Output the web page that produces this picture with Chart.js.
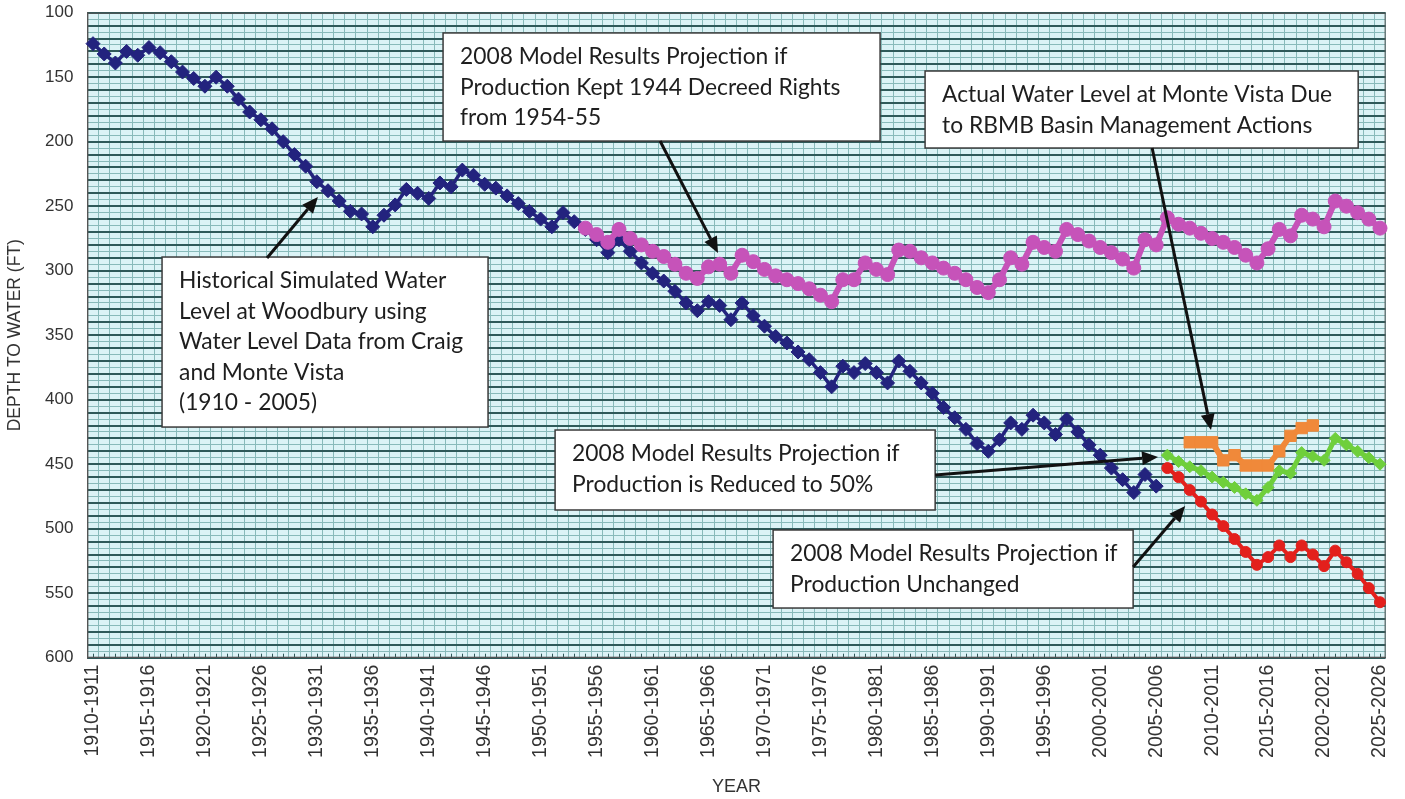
<!DOCTYPE html>
<html><head><meta charset="utf-8">
<script src="https://cdn.jsdelivr.net/npm/chart.js@4.4.0/dist/chart.umd.min.js"></script>
<style>html,body{margin:0;padding:0;background:#fff}#wrap{width:1405px;height:799px;position:relative}</style>
</head><body><div id="wrap"><canvas id="c" width="1405" height="799"></canvas></div>
<script>
// ---- categories (water years) ----
const firstYear = 1910, lastYear = 2025;
const categories = [];
for (let y = firstYear; y <= lastYear; y++) categories.push(y + '-' + (y + 1));

// ---- series values (depth to water, ft) ----
const historicalStart = 0; // 1910-1911
const historical = [124,132,139,130,133,127,131,138,146,151,157,150,157,167,177,183,190,200,210,219,
  231,238,246,254,256,266,257,249,237,240,244,232,235,222,226,233,236,242,248,254,
  260,266,255,262,268,276,286,276,285,294,302,308,316,325,331,324,327,338,325,335,
  343,351,356,363,369,379,390,374,379,372,379,387,370,378,387,395,406,414,423,434,
  440,431,418,423,412,418,427,415,425,435,443,453,462,472,458,467];
const kept1944Start = 44; // 1954-1955
const kept1944 = [267,272,278,268,275,280,285,289,295,302,306,297,295,302,288,293,299,304,307,310,
  314,319,324,307,307,294,299,303,284,285,290,294,298,302,307,313,317,307,290,295,
  278,282,285,268,272,277,282,286,291,298,276,280,259,264,267,271,275,278,282,288,
  294,283,268,273,257,260,266,246,250,255,260,267];
const reduced50Start = 96; // 2006-2007
const reduced50 = [443,448,452,455,460,464,468,473,478,468,455,457,441,444,447,430,435,440,445,450];
const unchangedStart = 96;
const unchanged = [453,460,470,479,489,498,508,518,528,522,513,522,513,520,529,517,526,535,546,557];
const actualStart = 98; // 2008-2009
const actual = [433,433,433,447,443,451,451,451,440,428,422,420];

// ---- axis ticks ----
const yMin = 100, yMax = 600, yLabelStep = 50, yGridStep = 5, yMajorGrid = 10;
const xLabelEvery = 5;

// ---- annotations (in category-index / depth units) ----
const noteBoxes = [
  {x0: 6.17, x1: 35.3, y0: 289.4, y1: 421.2,
   lines: ['Historical Simulated Water','Level at Woodbury using','Water Level Data from Craig','and Monte Vista','(1910 - 2005)']},
  {x0: 31.28, x1: 70.33, y0: 115.7, y1: 199.5,
   lines: ['2008 Model Results Projection if','Production Kept 1944 Decreed Rights','from 1954-55']},
  {x0: 74.35, x1: 113.05, y0: 145.2, y1: 204.9,
   lines: ['Actual Water Level at Monte Vista Due','to RBMB Basin Management Actions']},
  {x0: 41.29, x1: 75.25, y0: 423.5, y1: 485.5,
   lines: ['2008 Model Results Projection if','Production is Reduced to 50%']},
  {x0: 60.77, x1: 92.94, y0: 501, y1: 561.5,
   lines: ['2008 Model Results Projection if','Production Unchanged']}
];
const noteArrows = [
  {x0: 15.55, y0: 290.1, x1: 20.1, y1: 242.9},
  {x0: 50.67, y0: 199.5, x1: 55.85, y1: 286.3},
  {x0: 94.64, y0: 204.9, x1: 99.9, y1: 423.5},
  {x0: 75.25, y0: 458.3, x1: 95.17, y1: 444.4},
  {x0: 92.94, y0: 529.7, x1: 97.59, y1: 482.4}
];

function place(start, vals) {
  const out = new Array(categories.length).fill(null);
  vals.forEach((v, i) => { out[start + i] = v; });
  return out;
}

const plotBg = '#dbf3f6';
const gridLight = '#88baba';
const gridDark = '#2f5a5a';

const bgPlugin = {
  id: 'bg',
  beforeDraw(chart) {
    const {ctx, chartArea: a} = chart;
    ctx.save();
    ctx.fillStyle = plotBg;
    ctx.fillRect(a.left, a.top, a.right - a.left, a.bottom - a.top);
    ctx.restore();
  },
  beforeDatasetsDraw(chart) {
    const {ctx, chartArea: a, scales} = chart;
    ctx.save();
    ctx.strokeStyle = gridDark; ctx.lineWidth = 1;
    for (let i = 0; i < categories.length; i++) {
      const x = Math.round(scales.x.getPixelForValue(i)) + 0.5;
      ctx.beginPath(); ctx.moveTo(x, a.bottom); ctx.lineTo(x, a.bottom - 4); ctx.stroke();
    }
    ctx.strokeStyle = '#555'; ctx.lineWidth = 1;
    ctx.strokeRect(a.left + 0.5, a.top + 0.5, a.right - a.left - 1, a.bottom - a.top - 1);
    ctx.restore();
  }
};

const notePlugin = {
  id: 'notes',
  afterDatasetsDraw(chart) {
    const {ctx, scales} = chart;
    const X = v => scales.x.getPixelForValue(v);
    const Y = v => scales.y.getPixelForValue(v);
    ctx.save();
    noteBoxes.forEach(b => {
      const x0 = X(b.x0), x1 = X(b.x1), y0 = Y(b.y0), y1 = Y(b.y1);
      ctx.fillStyle = '#ffffff';
      ctx.fillRect(x0, y0, x1 - x0, y1 - y0);
      ctx.strokeStyle = '#3a3a3a'; ctx.lineWidth = 1.5;
      ctx.strokeRect(x0, y0, x1 - x0, y1 - y0);
      ctx.fillStyle = '#1e1e1e';
      ctx.font = '22.8px Lato, "Open Sans", sans-serif';
      ctx.textBaseline = 'middle'; ctx.textAlign = 'left';
      b.lines.forEach((t, k) => ctx.fillText(t, x0 + 17, y0 + 24 + k * 30.5));
    });
    noteArrows.forEach(r => {
      const xa = X(r.x0), ya = Y(r.y0), xb = X(r.x1), yb = Y(r.y1);
      const ang = Math.atan2(yb - ya, xb - xa);
      const hl = 16, hw = 7;
      const bx = xb - hl * Math.cos(ang), by = yb - hl * Math.sin(ang);
      ctx.strokeStyle = '#111'; ctx.lineWidth = 3;
      ctx.beginPath(); ctx.moveTo(xa, ya); ctx.lineTo(bx, by); ctx.stroke();
      ctx.fillStyle = '#111';
      ctx.beginPath();
      ctx.moveTo(xb, yb);
      ctx.lineTo(bx + hw * Math.sin(ang), by - hw * Math.cos(ang));
      ctx.lineTo(bx - hw * Math.sin(ang), by + hw * Math.cos(ang));
      ctx.closePath(); ctx.fill();
    });
    ctx.restore();
  }
};

const ds = (label, data, color, style, radius, width) => ({
  label, data, borderColor: color, backgroundColor: color,
  pointStyle: style, pointRadius: radius, pointHoverRadius: radius,
  pointBorderColor: color, pointBackgroundColor: color, pointBorderWidth: 1,
  borderWidth: width, tension: 0, spanGaps: false
});

const axisFont = '"Liberation Sans", Arial, sans-serif';

new Chart(document.getElementById('c'), {
  type: 'line',
  data: {
    labels: categories,
    datasets: [
      ds('2008 Model Results Projection if Production Kept 1944 Decreed Rights', place(kept1944Start, kept1944), '#c653b9', 'circle', 7, 6),
      ds('Historical Simulated Water Level at Woodbury', place(historicalStart, historical), '#23237e', 'rectRot', 7, 3.5),
      ds('2008 Model Results Projection if Production is Reduced to 50%', place(reduced50Start, reduced50), '#6fcf3c', 'rectRot', 6, 5),
      ds('2008 Model Results Projection if Production Unchanged', place(unchangedStart, unchanged), '#e3201c', 'circle', 5.5, 4),
      ds('Actual Water Level at Monte Vista', place(actualStart, actual), '#f0893a', 'rect', 8, 6)
    ]
  },
  options: {
    responsive: false, animation: false,
    devicePixelRatio: 1,
    layout: {padding: {left: 0, right: 19.4, top: 12.7, bottom: 0}},
    plugins: {legend: {display: false}, tooltip: {enabled: false}},
    scales: {
      x: {
        type: 'category', offset: true,
        grid: {offset: true, color: gridLight, lineWidth: 1, drawTicks: false},
        border: {display: true, color: '#555', width: 1},
        ticks: {
          autoSkip: false, minRotation: 90, maxRotation: 90, padding: 7,
          color: '#333', font: {family: axisFont, size: 19.5},
          callback: function (val, idx) { return idx % xLabelEvery === 0 ? this.getLabelForValue(val) : ''; }
        },
        title: {display: true, text: 'YEAR', color: '#333', padding: {top: 0, bottom: 1},
          font: {family: axisFont, size: 18}},
        afterFit(s) { s.height = 799 - 657.7; s.paddingLeft = 0; s.paddingRight = 0; }
      },
      y: {
        type: 'linear', reverse: true, min: yMin, max: yMax,
        grid: {
          drawTicks: false,
          color: c => (c.tick && c.tick.value % yMajorGrid === 0) ? gridDark : gridLight,
          lineWidth: c => (c.tick && c.tick.value % yMajorGrid === 0) ? 2 : 1
        },
        border: {display: true, color: '#555', width: 1},
        ticks: {
          stepSize: yGridStep, autoSkip: false, padding: 14,
          color: '#333', font: {family: axisFont, size: 17},
          callback: v => (v % yLabelStep === 0 ? String(v) : '')
        },
        title: {display: true, text: 'DEPTH TO WATER (FT)', color: '#333', padding: {top: 5, bottom: 0},
          font: {family: axisFont, size: 17.5}},
        afterFit(s) { s.width = 87.4; s.paddingTop = 0; s.paddingBottom = 0; }
      }
    }
  },
  plugins: [bgPlugin, notePlugin]
});
</script></body></html>
